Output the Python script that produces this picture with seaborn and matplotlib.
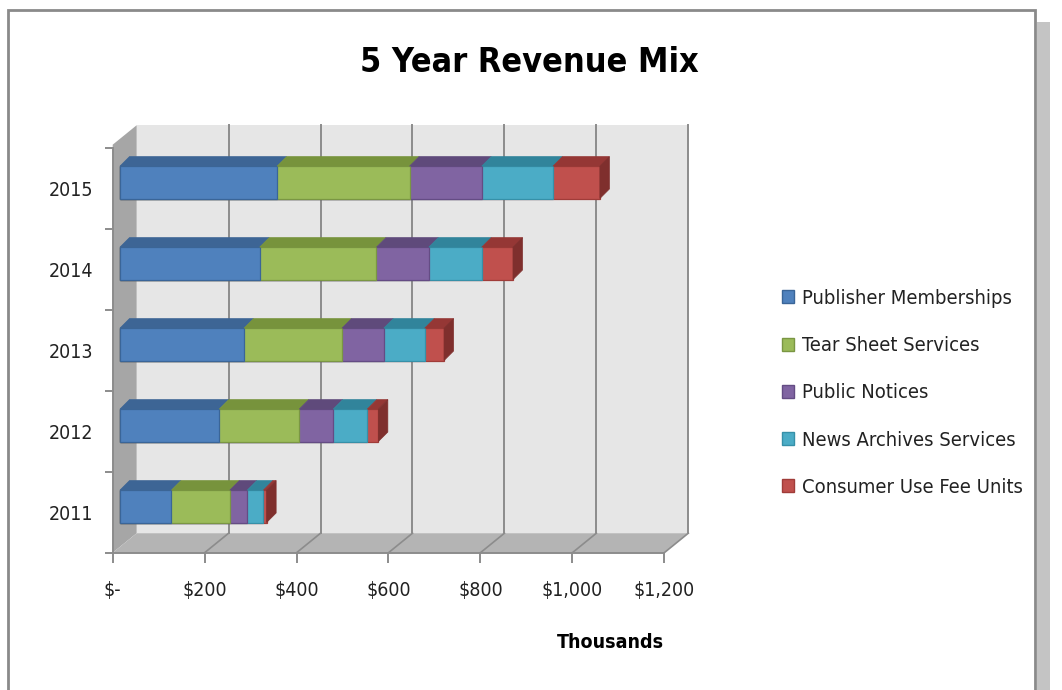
import numpy as np
import matplotlib
matplotlib.use("Agg")
import matplotlib.pyplot as plt
import seaborn as sns
from matplotlib.patches import Polygon, Rectangle, Patch
from matplotlib.transforms import IdentityTransform, offset_copy
from matplotlib import font_manager
from matplotlib.ticker import FixedLocator

# ---------------- data (thousands of $) ----------------
years = ["2015", "2014", "2013", "2012", "2011"]
series = ["Publisher Memberships", "Tear Sheet Services", "Public Notices",
          "News Archives Services", "Consumer Use Fee Units"]
publisher = [342, 304, 270, 216, 112]
tear_sheet = [288, 254, 213, 174, 127]
public_notices = [157, 114, 91, 74, 38]
news_archives = [155, 115, 89, 74, 35]
consumer_fees = [102, 68, 42, 24, 7]
x_ticks = [0, 200, 400, 600, 800, 1000, 1200]
x_tick_labels = ["$-", "$200", "$400", "$600", "$800", "$1,000", "$1,200"]
title = "5 Year Revenue Mix"
x_title = "Thousands"

# ---------------- style ----------------
front_cols = ["#4F81BD", "#9BBB59", "#8064A2", "#4BACC6", "#C0504D"]
edge_cols = ["#3A6598", "#7A9643", "#644C84", "#3690A8", "#A03C39"]
top_cols = ["#3D6595", "#77933C", "#5F4A7B", "#31849B", "#953735"]
side_cols = ["#345680", "#657E33", "#513F69", "#2A7185", "#7F2F2D"]

names = {f.name for f in font_manager.fontManager.ttflist}
if "Liberation Sans Narrow" in names:
    plt.rcParams["font.family"] = ["Liberation Sans Narrow", "DejaVu Sans"]
else:
    plt.rcParams["font.family"] = ["DejaVu Sans"]
    plt.rcParams["font.stretch"] = "condensed"

W, H = 1062, 690
fig = plt.figure(figsize=(W / 100, H / 100), dpi=100)
fig.patch.set_facecolor("white")

def fx(px):
    return px / W

def fy(py):
    return 1 - py / H

# front plane of the 3-D box
ax = fig.add_axes([fx(112.7), fy(552.7), 551.6 / W, 405 / H])
ax.set_facecolor("none")

vals = np.array([publisher, tear_sheet, public_notices, news_archives, consumer_fees], dtype=float)
cum = np.cumsum(vals, axis=0)
lefts = cum - vals

BAR_DX, BAR_DY = 7.3, 5.9      # bar front face offset from front plane (px)
DEPTH_DX, DEPTH_DY = 9.5, 9.5  # bar depth
BACK_DX, BACK_DY = 24.0, 19.5  # box depth
bar_tr = offset_copy(ax.transData, fig=fig, x=BAR_DX, y=BAR_DY, units="dots")

BAR_W = 0.4
for i in reversed(range(len(series))):
    n0 = len(ax.patches)
    sns.barplot(x=cum[i], y=years, order=years, orient="y", color=front_cols[i],
                saturation=1, width=BAR_W, edgecolor=edge_cols[i], linewidth=0.9,
                ax=ax, legend=False, zorder=2)
    for p in ax.patches[n0:]:
        p.set_transform(bar_tr)

ax.set_xlim(0, 1200)
ax.set_ylim(len(years) - 0.5, -0.5)

def disp(x, y, dx=0.0, dy=0.0):
    X, Y = ax.transData.transform((x, y))
    return (X + dx, Y + dy)

idt = IdentityTransform()
GRID = "#8C8C8C"

def poly(pts, fc, ec="none", lw=0.0, z=0.5):
    ax.add_patch(Polygon(pts, closed=True, facecolor=fc, edgecolor=ec, linewidth=lw,
                         transform=idt, clip_on=False, zorder=z))

y_top, y_bot = -0.5, len(years) - 0.5
# back wall
poly([disp(0, y_bot, BACK_DX, BACK_DY), disp(1200, y_bot, BACK_DX, BACK_DY),
      disp(1200, y_top, BACK_DX, BACK_DY + 3), disp(0, y_top, BACK_DX, BACK_DY + 3)],
     "#E6E6E6", z=0.2)
# left wall
poly([disp(0, y_bot), disp(0, y_top, 0, 3), disp(0, y_top, BACK_DX, BACK_DY + 3),
      disp(0, y_bot, BACK_DX, BACK_DY)], "#A6A6A6", z=0.3)
# floor
poly([disp(0, y_bot), disp(1200, y_bot), disp(1200, y_bot, BACK_DX, BACK_DY),
      disp(0, y_bot, BACK_DX, BACK_DY)], "#B4B4B4", z=0.3)

# gridlines on back wall and floor
for xv in x_ticks[1:]:
    b0 = disp(xv, y_bot, BACK_DX, BACK_DY)
    b1 = disp(xv, y_top, BACK_DX, BACK_DY + 3)
    f0 = disp(xv, y_bot)
    ax.add_line(plt.Line2D([b0[0], b1[0]], [b0[1], b1[1]], color=GRID, lw=1.4,
                           transform=idt, clip_on=False, zorder=0.35))
    ax.add_line(plt.Line2D([f0[0], b0[0]], [f0[1], b0[1]], color=GRID, lw=1.2,
                           transform=idt, clip_on=False, zorder=0.35))

# 3-D faces for bars
for r, yr in enumerate(range(len(years))):
    y0, y1 = yr - BAR_W / 2, yr + BAR_W / 2
    for i in range(len(series)):
        l, rr = lefts[i][r], cum[i][r]
        tl = disp(l, y0, BAR_DX, BAR_DY)
        tr = disp(rr, y0, BAR_DX, BAR_DY)
        poly([tl, tr, (tr[0] + DEPTH_DX, tr[1] + DEPTH_DY), (tl[0] + DEPTH_DX, tl[1] + DEPTH_DY)],
             top_cols[i], ec=top_cols[i], lw=0.5, z=2.5)
    i = len(series) - 1
    rr = cum[i][r]
    tr = disp(rr, y0, BAR_DX, BAR_DY)
    br = disp(rr, y1, BAR_DX, BAR_DY)
    poly([tr, br, (br[0] + DEPTH_DX, br[1] + DEPTH_DY), (tr[0] + DEPTH_DX, tr[1] + DEPTH_DY)],
         side_cols[i], ec=side_cols[i], lw=0.5, z=2.5)

# axes, ticks, labels
for s in ["top", "right"]:
    ax.spines[s].set_visible(False)
for s in ["left", "bottom"]:
    ax.spines[s].set_color(GRID)
    ax.spines[s].set_linewidth(1.4)
    ax.spines[s].set_zorder(0.4)

ax.set_xticks(x_ticks)
ax.set_xticklabels(x_tick_labels)
ax.tick_params(axis="x", length=7, width=1.4, color=GRID, pad=13.5, labelsize=14,
               labelcolor="#222222")
ax.set_yticks(range(len(years)))
ax.set_yticklabels(years)
ax.yaxis.set_minor_locator(FixedLocator(np.arange(-0.5, len(years), 1.0)))
ax.tick_params(axis="y", which="major", length=0, pad=14, labelsize=14, labelcolor="#222222")
ax.tick_params(axis="y", which="minor", length=6, width=1.4, color=GRID)
ax.set_xlabel("")
ax.set_ylabel("")

fig.text(fx(529), fy(62), title, ha="center", va="center", fontsize=24.5, fontweight="bold",
         color="black")
fig.text(fx(610), fy(643), x_title, ha="center", va="center", fontsize=14, fontweight="bold",
         color="black")

handles = [Patch(facecolor=front_cols[i], edgecolor=edge_cols[i], linewidth=1.0)
           for i in range(len(series))]
fig.legend(handles, series, loc="upper left", bbox_to_anchor=(fx(782), fy(289)),
           frameon=False, fontsize=14.5, labelspacing=1.4, handlelength=0.62,
           handleheight=0.62, handletextpad=0.35, borderpad=0, borderaxespad=0,
           labelcolor="#222222")

# outer chart frame and shadow
fig.add_artist(Rectangle((fx(1037), fy(690)), 13 / W, (690 - 22) / H, transform=fig.transFigure,
                         facecolor="#C4C4C4", edgecolor="none", zorder=0))
fig.add_artist(Rectangle((fx(8), fy(700)), (1035 - 8) / W, (700 - 10) / H,
                         transform=fig.transFigure, facecolor="none", edgecolor="#8A8A8A",
                         linewidth=2, zorder=0.1))

fig.savefig("out.png", dpi=100)
